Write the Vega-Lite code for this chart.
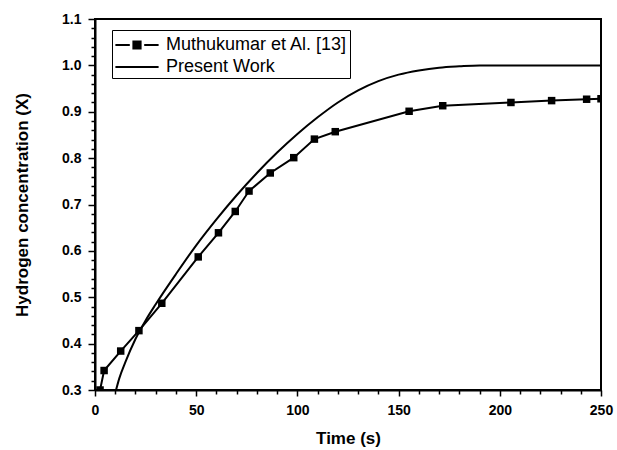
{
  "$schema": "https://vega.github.io/schema/vega-lite/v6.json",
  "autosize": "none",
  "width": 506,
  "height": 371,
  "padding": {"left": 95, "top": 19, "right": 16, "bottom": 60},
  "background": "white",
  "config": {
    "view": {"stroke": "black", "strokeWidth": 2},
    "font": "Liberation Sans",
    "axis": {
      "grid": false,
      "domainColor": "black",
      "domainWidth": 2,
      "tickColor": "black",
      "tickWidth": 1.5,
      "labelColor": "black",
      "labelFont": "Liberation Sans",
      "labelFontWeight": "bold",
      "labelFontSize": 14,
      "titleFont": "Liberation Sans",
      "titleFontWeight": "bold",
      "titleFontSize": 17,
      "titleColor": "black"
    }
  },
  "data": {
    "values": [
      {"t": 2.5, "x": 0.300, "series": "Muthukumar et Al. [13]"},
      {"t": 4.5, "x": 0.342, "series": "Muthukumar et Al. [13]"},
      {"t": 12.7, "x": 0.384, "series": "Muthukumar et Al. [13]"},
      {"t": 21.7, "x": 0.428, "series": "Muthukumar et Al. [13]"},
      {"t": 33, "x": 0.487, "series": "Muthukumar et Al. [13]"},
      {"t": 51, "x": 0.587, "series": "Muthukumar et Al. [13]"},
      {"t": 61, "x": 0.639, "series": "Muthukumar et Al. [13]"},
      {"t": 69.3, "x": 0.685, "series": "Muthukumar et Al. [13]"},
      {"t": 76.1, "x": 0.729, "series": "Muthukumar et Al. [13]"},
      {"t": 86.6, "x": 0.768, "series": "Muthukumar et Al. [13]"},
      {"t": 98.2, "x": 0.801, "series": "Muthukumar et Al. [13]"},
      {"t": 108.4, "x": 0.841, "series": "Muthukumar et Al. [13]"},
      {"t": 118.7, "x": 0.857, "series": "Muthukumar et Al. [13]"},
      {"t": 155.2, "x": 0.901, "series": "Muthukumar et Al. [13]"},
      {"t": 171.8, "x": 0.913, "series": "Muthukumar et Al. [13]"},
      {"t": 205.5, "x": 0.920, "series": "Muthukumar et Al. [13]"},
      {"t": 225.6, "x": 0.924, "series": "Muthukumar et Al. [13]"},
      {"t": 242.9, "x": 0.927, "series": "Muthukumar et Al. [13]"},
      {"t": 250, "x": 0.928, "series": "Muthukumar et Al. [13]"},
      {"t": 10.4, "x": 0.300, "series": "Present Work"},
      {"t": 12, "x": 0.325, "series": "Present Work"},
      {"t": 15, "x": 0.360, "series": "Present Work"},
      {"t": 20, "x": 0.410, "series": "Present Work"},
      {"t": 25, "x": 0.450, "series": "Present Work"},
      {"t": 30, "x": 0.485, "series": "Present Work"},
      {"t": 40, "x": 0.550, "series": "Present Work"},
      {"t": 50, "x": 0.612, "series": "Present Work"},
      {"t": 60, "x": 0.668, "series": "Present Work"},
      {"t": 70, "x": 0.720, "series": "Present Work"},
      {"t": 80, "x": 0.768, "series": "Present Work"},
      {"t": 90, "x": 0.812, "series": "Present Work"},
      {"t": 100, "x": 0.852, "series": "Present Work"},
      {"t": 110, "x": 0.888, "series": "Present Work"},
      {"t": 120, "x": 0.920, "series": "Present Work"},
      {"t": 130, "x": 0.946, "series": "Present Work"},
      {"t": 140, "x": 0.966, "series": "Present Work"},
      {"t": 150, "x": 0.980, "series": "Present Work"},
      {"t": 160, "x": 0.989, "series": "Present Work"},
      {"t": 170, "x": 0.995, "series": "Present Work"},
      {"t": 180, "x": 0.998, "series": "Present Work"},
      {"t": 190, "x": 1.0, "series": "Present Work"},
      {"t": 200, "x": 1.0, "series": "Present Work"},
      {"t": 250, "x": 1.0, "series": "Present Work"}
    ]
  },
  "encoding": {
    "x": {
      "field": "t",
      "type": "quantitative",
      "scale": {"domain": [0, 250], "nice": false, "zero": false},
      "axis": {
        "title": "Time (s)",
        "values": [0,10,20,30,40,50,60,70,80,90,100,110,120,130,140,150,160,170,180,190,200,210,220,230,240,250],
        "labelExpr": "datum.value % 50 === 0 ? datum.label : ''",
        "tickSize": {"condition": {"test": "datum.value % 50 === 0", "value": 6}, "value": 4},
        "labelPadding": 7,
        "titlePadding": 13,
        "labelFlush": false,
        "labelOverlap": false
      }
    },
    "y": {
      "field": "x",
      "type": "quantitative",
      "scale": {"domain": [0.3, 1.1], "nice": false, "zero": false},
      "axis": {
        "title": "Hydrogen concentration (X)",
        "values": [0.3,0.32,0.34,0.36,0.38,0.4,0.42,0.44,0.46,0.48,0.5,0.52,0.54,0.56,0.58,0.6,0.62,0.64,0.66,0.68,0.7,0.72,0.74,0.76,0.78,0.8,0.82,0.84,0.86,0.88,0.9,0.92,0.94,0.96,0.98,1.0,1.02,1.04,1.06,1.08,1.1],
        "format": ".1f",
        "labelExpr": "abs(datum.value * 10 - round(datum.value * 10)) < 0.001 ? datum.label : ''",
        "tickSize": {"condition": {"test": "abs(datum.value * 10 - round(datum.value * 10)) < 0.001", "value": 7}, "value": 4},
        "labelPadding": 7,
        "titlePadding": 30,
        "labelFlush": false,
        "labelOverlap": false
      }
    },
    "color": {
      "field": "series",
      "type": "nominal",
      "scale": {"domain": ["Muthukumar et Al. [13]", "Present Work"], "range": ["black", "black"]},
      "legend": {
        "title": null,
        "orient": "none",
        "legendX": 17,
        "legendY": 11,
        "strokeColor": "black",
        "fillColor": "white",
        "padding": 2,
        "rowPadding": 0,
        "symbolSize": 576,
        "symbolOffset": 10,
        "labelOffset": 16,
        "labelFont": "Liberation Sans",
        "labelFontSize": 18,
        "labelFontWeight": "normal",
        "labelColor": "black",
        "labelLimit": 400,
        "encode": {
          "symbols": {
            "update": {
              "shape": [
                {"test": "datum.value === 'Present Work'", "value": "M-1.8,0H1.8"},
                {"value": "M-1.8,0H-0.6M0.6,0H1.8M-0.3,-0.3H0.3V0.3H-0.3Z"}
              ],
              "fill": {"value": "black"},
              "stroke": {"value": "black"},
              "strokeWidth": {"value": 2},
              "opacity": {"value": 1}
            }
          }
        }
      }
    }
  },
  "layer": [
    {
      "transform": [{"filter": "datum.series === 'Muthukumar et Al. [13]'"}],
      "mark": {"type": "line", "strokeWidth": 2, "clip": true}
    },
    {
      "transform": [{"filter": "datum.series === 'Present Work'"}],
      "mark": {"type": "line", "strokeWidth": 2, "clip": true, "interpolate": "monotone"}
    },
    {
      "transform": [{"filter": "datum.series === 'Muthukumar et Al. [13]'"}],
      "mark": {"type": "point", "shape": "square", "filled": true, "size": 56, "opacity": 1, "clip": true}
    }
  ]
}
